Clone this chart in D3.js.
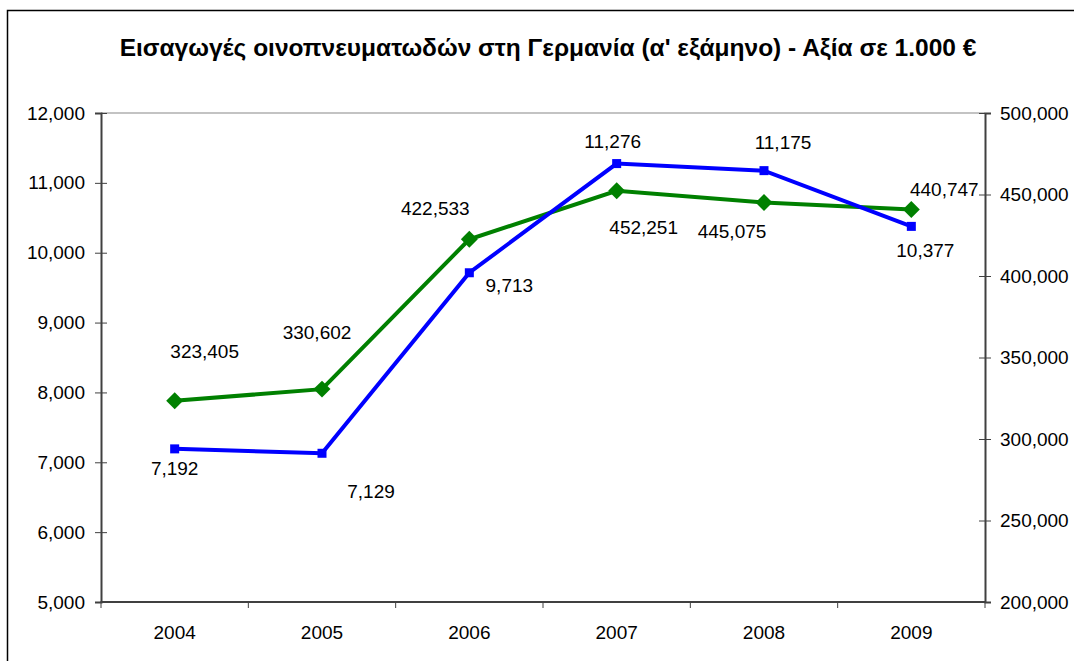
<!DOCTYPE html>
<html>
<head>
<meta charset="utf-8">
<script src="https://cdn.jsdelivr.net/npm/d3@7.9.0/dist/d3.min.js"></script>
<style>
  body { margin: 0; background: #fff; }
  svg { display: block; font-family: "Liberation Sans", Arial, sans-serif; }
</style>
</head>
<body>
<div id="chart"></div>
<script>
const years = ["2004", "2005", "2006", "2007", "2008", "2009"];
const quantity = [7192, 7129, 9713, 11276, 11175, 10377];
const value = [323405, 330602, 422533, 452251, 445075, 440747];
const leftTicks = [5000, 6000, 7000, 8000, 9000, 10000, 11000, 12000];
const rightTicks = [200000, 250000, 300000, 350000, 400000, 450000, 500000];
const title = "Εισαγωγές οινοπνευματωδών στη Γερμανία (α' εξάμηνο) - Αξία σε 1.000 €";

// hand placed label offsets, like the original
const blueOffsets = [[0, 20], [49, 38], [40, 13], [-4, -22], [19, -28], [14, 24]];
const greenOffsets = [[30, -49], [-5, -57], [-34, -31], [27, 37], [-32, 29], [33, -20]];

const width = 1074, height = 661;
const area = { left: 101, right: 985, top: 113, bottom: 602 };
const fmt = d3.format(",");
const fontSize = 19;

const svg = d3.select("#chart").append("svg")
    .attr("width", width)
    .attr("height", height);

// outer chart frame
svg.append("rect")
    .attr("x", 7.5).attr("y", 10.5)
    .attr("width", 1080).attr("height", 700)
    .attr("fill", "none")
    .attr("stroke", "#000")
    .attr("stroke-width", 1.5);

svg.append("text")
    .attr("x", 548).attr("y", 47)
    .attr("text-anchor", "middle")
    .attr("dominant-baseline", "central")
    .attr("font-size", 24.5)
    .attr("font-weight", "bold")
    .text(title);

const x = d3.scaleBand().domain(years).range([area.left, area.right]);
const yL = d3.scaleLinear().domain([5000, 12000]).range([area.bottom, area.top]);
const yR = d3.scaleLinear().domain([200000, 500000]).range([area.bottom, area.top]);

// top border of plot area
svg.append("line")
    .attr("x1", area.left).attr("x2", area.right)
    .attr("y1", area.top).attr("y2", area.top)
    .attr("stroke", "#888").attr("stroke-width", 1.2);

function styleAxis(g) {
    g.selectAll("path").attr("stroke", "#404040").attr("stroke-width", 2);
    g.selectAll("line").attr("stroke", "#404040");
    g.selectAll("text").attr("font-size", fontSize).attr("fill", "#000")
        .attr("font-family", "Liberation Sans, Arial, sans-serif");
}

const leftAxis = svg.append("g")
    .attr("transform", `translate(${area.left},0)`)
    .call(d3.axisLeft(yL).tickValues(leftTicks).tickFormat(fmt).tickSizeOuter(0).tickSize(6));
leftAxis.selectAll(".tick line").attr("x2", 6).attr("x1", -6);
leftAxis.selectAll(".tick text").attr("x", -16);
styleAxis(leftAxis);

const rightAxis = svg.append("g")
    .attr("transform", `translate(${area.right},0)`)
    .call(d3.axisRight(yR).tickValues(rightTicks).tickFormat(fmt).tickSizeOuter(0).tickSize(6));
rightAxis.selectAll(".tick line").attr("x1", -6).attr("x2", 6);
rightAxis.selectAll(".tick text").attr("x", 15);
styleAxis(rightAxis);

// category axis: ticks between categories
const bottomAxis = svg.append("g")
    .attr("transform", `translate(0,${area.bottom})`);
bottomAxis.append("line")
    .attr("x1", area.left).attr("x2", area.right)
    .attr("stroke", "#404040").attr("stroke-width", 2);
bottomAxis.selectAll("line.tick")
    .data(years.concat(["end"]))
    .join("line")
    .attr("class", "tick")
    .attr("x1", (d, i) => area.left + i * x.step())
    .attr("x2", (d, i) => area.left + i * x.step())
    .attr("y1", -1).attr("y2", 6)
    .attr("stroke", "#404040");
bottomAxis.selectAll("text")
    .data(years)
    .join("text")
    .attr("x", d => x(d) + x.bandwidth() / 2)
    .attr("y", 30)
    .attr("text-anchor", "middle")
    .attr("dominant-baseline", "central")
    .attr("font-size", fontSize)
    .text(d => d);

const cx = (d, i) => x(years[i]) + x.bandwidth() / 2;

// green series (right axis)
svg.append("path")
    .datum(value)
    .attr("fill", "none")
    .attr("stroke", "#008000")
    .attr("stroke-width", 4)
    .attr("d", d3.line().x(cx).y(d => yR(d)));

svg.selectAll("rect.diamond")
    .data(value)
    .join("rect")
    .attr("class", "diamond")
    .attr("x", -6).attr("y", -6)
    .attr("width", 12).attr("height", 12)
    .attr("fill", "#008000")
    .attr("transform", (d, i) => `translate(${cx(d, i)},${yR(d)}) rotate(45)`);

// blue series (left axis)
svg.append("path")
    .datum(quantity)
    .attr("fill", "none")
    .attr("stroke", "#0000ff")
    .attr("stroke-width", 4)
    .attr("d", d3.line().x(cx).y(d => yL(d)));

svg.selectAll("rect.square")
    .data(quantity)
    .join("rect")
    .attr("class", "square")
    .attr("x", (d, i) => cx(d, i) - 4.5)
    .attr("y", d => yL(d) - 4.5)
    .attr("width", 9).attr("height", 9)
    .attr("fill", "#0000ff");

// data labels
svg.selectAll("text.vlabel")
    .data(value)
    .join("text")
    .attr("class", "vlabel")
    .attr("x", (d, i) => cx(d, i) + greenOffsets[i][0])
    .attr("y", (d, i) => yR(d) + greenOffsets[i][1])
    .attr("text-anchor", "middle")
    .attr("dominant-baseline", "central")
    .attr("font-size", fontSize)
    .text(fmt);

svg.selectAll("text.qlabel")
    .data(quantity)
    .join("text")
    .attr("class", "qlabel")
    .attr("x", (d, i) => cx(d, i) + blueOffsets[i][0])
    .attr("y", (d, i) => yL(d) + blueOffsets[i][1])
    .attr("text-anchor", "middle")
    .attr("dominant-baseline", "central")
    .attr("font-size", fontSize)
    .text(fmt);
</script>
</body>
</html>
